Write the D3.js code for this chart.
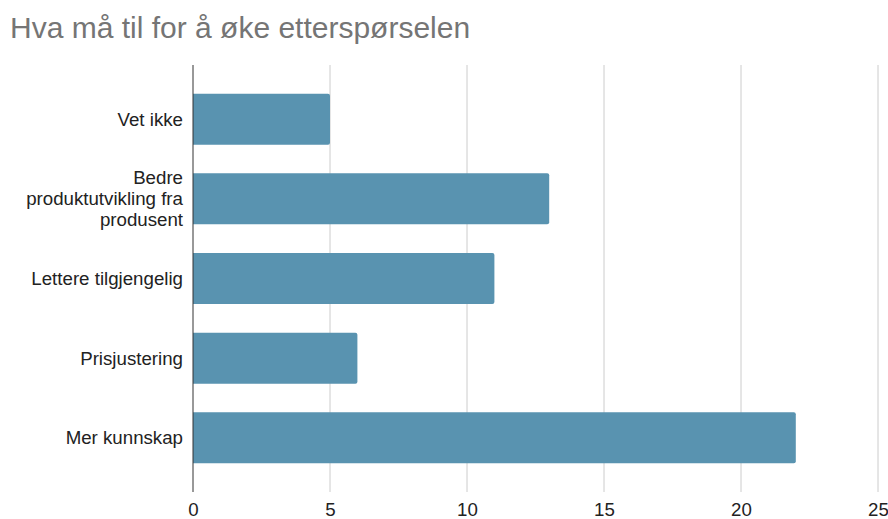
<!DOCTYPE html>
<html>
<head>
<meta charset="utf-8">
<script src="https://cdn.jsdelivr.net/npm/d3@7"></script>
<style>
  html, body { margin: 0; padding: 0; background: #fff; }
  svg { display: block; font-family: "Liberation Sans", Arial, sans-serif; }
</style>
</head>
<body>
<svg id="chart" width="888" height="519"></svg>
<script>
// Survey answers: what is needed to increase demand
const categories = [
  "Vet ikke",
  "Bedre produktutvikling fra produsent",
  "Lettere tilgjengelig",
  "Prisjustering",
  "Mer kunnskap"
];
const labelLines = [
  ["Vet ikke"],
  ["Bedre", "produktutvikling fra", "produsent"],
  ["Lettere tilgjengelig"],
  ["Prisjustering"],
  ["Mer kunnskap"]
];
const values = [5, 13, 11, 6, 22];
const xTicks = [0, 5, 10, 15, 20, 25];
const title = "Hva må til for å øke etterspørselen";

const svg = d3.select("#chart");
const margin = { top: 65, right: 10, bottom: 27, left: 193 };
const W = 888, H = 519;
const labelFont = 18.7;

const x = d3.scaleLinear()
  .domain([0, 25])
  .range([margin.left, 878]);

const y = d3.scaleBand()
  .domain(categories)
  .range([margin.top, H - margin.bottom])
  .paddingInner(0.36)
  .paddingOuter(0.36);

// Title
svg.append("text")
  .attr("x", 10)
  .attr("y", 38)
  .attr("fill", "#757575")
  .attr("font-size", 30)
  .text(title);

// Vertical gridlines
svg.append("g")
  .selectAll("line")
  .data(xTicks.filter(d => d > 0))
  .join("line")
  .attr("x1", d => x(d)).attr("x2", d => x(d))
  .attr("y1", margin.top).attr("y2", H - margin.bottom)
  .attr("stroke", "#cccccc")
  .attr("stroke-width", 1);

// Bars (slightly rounded at the value end)
const r = 2;
svg.append("g")
  .selectAll("path")
  .data(values)
  .join("path")
  .attr("fill", "#5993b0")
  .attr("d", (d, i) => {
    const x0 = x(0), x1 = x(d);
    const y0 = y(categories[i]), h = y.bandwidth();
    return `M${x0},${y0}H${x1 - r}Q${x1},${y0} ${x1},${y0 + r}V${y0 + h - r}Q${x1},${y0 + h} ${x1 - r},${y0 + h}H${x0}Z`;
  });

// Bottom axis tick labels
const xAxis = d3.axisBottom(x).tickValues(xTicks).tickSize(0).tickPadding(11);
const gx = svg.append("g")
  .attr("transform", `translate(0,${H - margin.bottom})`)
  .call(xAxis);
gx.select(".domain").remove();
gx.selectAll("text")
  .attr("font-size", labelFont)
  .attr("font-family", "\"Liberation Sans\", Arial, sans-serif")
  .attr("fill", "#222");

// Category labels (left axis)
const yAxis = d3.axisLeft(y).tickSize(0).tickPadding(10).tickFormat(() => "");
const gy = svg.append("g")
  .attr("transform", `translate(${margin.left},0)`)
  .call(yAxis);
gy.select(".domain").remove();
const lineH = 21;
gy.selectAll(".tick text")
  .attr("font-size", labelFont)
  .attr("font-family", "\"Liberation Sans\", Arial, sans-serif")
  .attr("fill", "#222")
  .attr("dy", null)
  .each(function(d, i) {
    const lines = labelLines[i];
    const t = d3.select(this);
    const start = -((lines.length - 1) * lineH) / 2;
    lines.forEach((ln, j) => {
      t.append("tspan")
        .attr("x", -10)
        .attr("y", start + j * lineH)
        .attr("dy", "0.35em")
        .text(ln);
    });
  });

// Zero baseline
svg.append("line")
  .attr("x1", x(0)).attr("x2", x(0))
  .attr("y1", margin.top).attr("y2", H - margin.bottom)
  .attr("stroke", "#333")
  .attr("stroke-width", 1);
</script>
</body>
</html>
